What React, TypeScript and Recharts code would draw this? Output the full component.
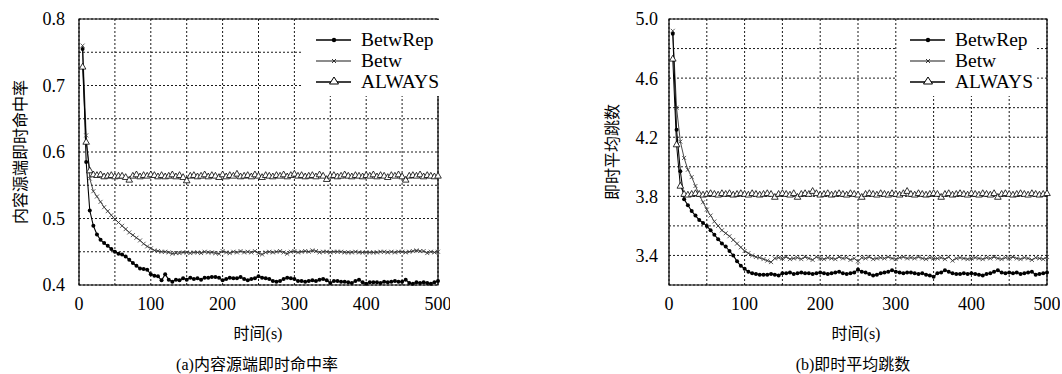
import React from 'react';
import { LineChart, Line, XAxis, YAxis, CartesianGrid, ReferenceArea } from 'recharts';

// sample times (s)
const time = [
  5, 10, 15, 20, 25, 30, 35, 40, 45, 50,
  55, 60, 65, 70, 75, 80, 85, 90, 95, 100,
  105, 110, 115, 120, 125, 130, 135, 140, 145, 150,
  155, 160, 165, 170, 175, 180, 185, 190, 195, 200,
  205, 210, 215, 220, 225, 230, 235, 240, 245, 250,
  255, 260, 265, 270, 275, 280, 285, 290, 295, 300,
  305, 310, 315, 320, 325, 330, 335, 340, 345, 350,
  355, 360, 365, 370, 375, 380, 385, 390, 395, 400,
  405, 410, 415, 420, 425, 430, 435, 440, 445, 450,
  455, 460, 465, 470, 475, 480, 485, 490, 495, 500,
];

// (a) hit ratio at content source
const hitBetwRep = [
  0.755, 0.585, 0.512, 0.489, 0.476, 0.468, 0.463, 0.459, 0.454, 0.450,
  0.447, 0.446, 0.443, 0.438, 0.433, 0.429, 0.425, 0.424, 0.423, 0.416,
  0.414, 0.413, 0.407, 0.416, 0.408, 0.405, 0.408, 0.407, 0.410, 0.408,
  0.411, 0.409, 0.410, 0.408, 0.411, 0.411, 0.412, 0.412, 0.411, 0.407,
  0.409, 0.411, 0.410, 0.410, 0.412, 0.409, 0.407, 0.409, 0.410, 0.413,
  0.411, 0.410, 0.409, 0.406, 0.405, 0.406, 0.409, 0.411, 0.410, 0.409,
  0.406, 0.406, 0.405, 0.406, 0.407, 0.406, 0.408, 0.409, 0.407, 0.403,
  0.406, 0.406, 0.405, 0.405, 0.404, 0.403, 0.406, 0.408, 0.404, 0.402,
  0.404, 0.404, 0.404, 0.403, 0.405, 0.404, 0.405, 0.406, 0.405, 0.405,
  0.408, 0.403, 0.402, 0.404, 0.403, 0.404, 0.403, 0.402, 0.404, 0.406,
];
const hitBetw = [
  0.760, 0.625, 0.560, 0.541, 0.533, 0.525, 0.517, 0.511, 0.505, 0.499,
  0.494, 0.489, 0.484, 0.479, 0.475, 0.471, 0.467, 0.462, 0.458, 0.455,
  0.452, 0.451, 0.450, 0.450, 0.449, 0.447, 0.448, 0.448, 0.449, 0.449,
  0.448, 0.449, 0.449, 0.448, 0.450, 0.449, 0.449, 0.448, 0.447, 0.451,
  0.449, 0.448, 0.450, 0.449, 0.451, 0.449, 0.450, 0.449, 0.451, 0.448,
  0.446, 0.449, 0.450, 0.449, 0.450, 0.451, 0.449, 0.447, 0.450, 0.451,
  0.449, 0.450, 0.451, 0.450, 0.452, 0.451, 0.449, 0.450, 0.450, 0.449,
  0.450, 0.450, 0.450, 0.449, 0.449, 0.449, 0.450, 0.449, 0.449, 0.449,
  0.449, 0.449, 0.449, 0.450, 0.450, 0.449, 0.450, 0.449, 0.450, 0.450,
  0.449, 0.450, 0.451, 0.452, 0.451, 0.451, 0.448, 0.450, 0.449, 0.450,
];
const hitAlways = [
  0.728, 0.615, 0.572, 0.566, 0.565, 0.566, 0.563, 0.564, 0.565, 0.563,
  0.564, 0.564, 0.562, 0.558, 0.564, 0.566, 0.563, 0.565, 0.564, 0.566,
  0.565, 0.563, 0.565, 0.563, 0.564, 0.566, 0.563, 0.565, 0.562, 0.557,
  0.564, 0.565, 0.563, 0.564, 0.566, 0.563, 0.565, 0.564, 0.562, 0.566,
  0.563, 0.565, 0.564, 0.567, 0.563, 0.564, 0.565, 0.563, 0.566, 0.564,
  0.562, 0.565, 0.564, 0.563, 0.565, 0.564, 0.566, 0.563, 0.565, 0.567,
  0.564, 0.565, 0.563, 0.564, 0.565, 0.563, 0.566, 0.564, 0.559, 0.564,
  0.565, 0.563, 0.564, 0.566, 0.564, 0.563, 0.565, 0.564, 0.563, 0.565,
  0.564, 0.566, 0.563, 0.565, 0.564, 0.562, 0.565, 0.564, 0.566, 0.563,
  0.558, 0.564, 0.565, 0.564, 0.566, 0.563, 0.565, 0.564, 0.563, 0.564,
];

// (b) average hop count
const hopBetwRep = [
  4.90, 4.25, 3.97, 3.78, 3.74, 3.70, 3.67, 3.64, 3.62, 3.60,
  3.57, 3.54, 3.51, 3.48, 3.46, 3.43, 3.40, 3.36, 3.33, 3.31,
  3.29, 3.28, 3.275, 3.27, 3.27, 3.27, 3.275, 3.27, 3.265, 3.28,
  3.28, 3.285, 3.275, 3.28, 3.285, 3.28, 3.28, 3.275, 3.28, 3.285,
  3.28, 3.275, 3.28, 3.285, 3.29, 3.28, 3.275, 3.28, 3.285, 3.305,
  3.29, 3.285, 3.275, 3.265, 3.27, 3.28, 3.285, 3.29, 3.30, 3.29,
  3.285, 3.28, 3.285, 3.285, 3.28, 3.275, 3.28, 3.27, 3.265, 3.255,
  3.28, 3.285, 3.30, 3.29, 3.28, 3.275, 3.275, 3.28, 3.275, 3.28,
  3.275, 3.27, 3.265, 3.275, 3.28, 3.29, 3.30, 3.285, 3.28, 3.285,
  3.28, 3.285, 3.275, 3.28, 3.285, 3.29, 3.27, 3.275, 3.28, 3.285,
];
const hopBetw = [
  4.92, 4.40, 4.17, 4.06, 3.98, 3.93, 3.87, 3.81, 3.76, 3.71,
  3.67, 3.63, 3.60, 3.57, 3.55, 3.53, 3.505, 3.48, 3.455, 3.43,
  3.415, 3.40, 3.39, 3.385, 3.375, 3.365, 3.355, 3.38, 3.385, 3.38,
  3.39, 3.375, 3.38, 3.385, 3.375, 3.39, 3.38, 3.37, 3.39, 3.38,
  3.375, 3.385, 3.38, 3.375, 3.39, 3.38, 3.385, 3.37, 3.38, 3.36,
  3.385, 3.38, 3.39, 3.375, 3.38, 3.385, 3.38, 3.39, 3.38, 3.375,
  3.385, 3.39, 3.38, 3.385, 3.38, 3.39, 3.38, 3.375, 3.385, 3.38,
  3.38, 3.385, 3.375, 3.39, 3.365, 3.38, 3.385, 3.38, 3.375, 3.38,
  3.385, 3.38, 3.375, 3.385, 3.38, 3.39, 3.38, 3.375, 3.385, 3.38,
  3.39, 3.38, 3.375, 3.385, 3.38, 3.37, 3.385, 3.38, 3.375, 3.39,
];
const hopAlways = [
  4.73, 4.15, 3.87, 3.815, 3.81, 3.815, 3.82, 3.815, 3.81, 3.815,
  3.82, 3.815, 3.81, 3.82, 3.815, 3.82, 3.81, 3.815, 3.82, 3.815,
  3.81, 3.82, 3.815, 3.81, 3.815, 3.82, 3.815, 3.795, 3.815, 3.82,
  3.815, 3.81, 3.82, 3.795, 3.815, 3.82, 3.815, 3.835, 3.82, 3.81,
  3.815, 3.82, 3.81, 3.815, 3.82, 3.815, 3.81, 3.82, 3.815, 3.81,
  3.795, 3.815, 3.82, 3.815, 3.81, 3.82, 3.815, 3.81, 3.82, 3.815,
  3.81, 3.82, 3.835, 3.815, 3.81, 3.82, 3.815, 3.81, 3.815, 3.82,
  3.815, 3.795, 3.815, 3.82, 3.81, 3.815, 3.82, 3.815, 3.81, 3.82,
  3.815, 3.81, 3.82, 3.815, 3.81, 3.82, 3.795, 3.815, 3.82, 3.815,
  3.81, 3.815, 3.82, 3.815, 3.81, 3.82, 3.815, 3.81, 3.815, 3.82,
];

const seriesNames = ['BetwRep', 'Betw', 'ALWAYS'];

const xTicks = [0, 50, 100, 150, 200, 250, 300, 350, 400, 450, 500];
const xLabels = ['0', '', '100', '', '200', '', '300', '', '400', '', '500'];

const hitTicks = [0.4, 0.45, 0.5, 0.55, 0.6, 0.65, 0.7, 0.75, 0.8];
const hitLabels = ['0.4', '', '0.5', '', '0.6', '', '0.7', '', '0.8'];

const hopTicks = [3.2, 3.4, 3.6, 3.8, 4.0, 4.2, 4.4, 4.6, 4.8, 5.0];
const hopLabels = ['', '3.4', '', '3.8', '', '4.2', '', '4.6', '', '5.0'];

const hitRows = time.map((t, i) => ({ t, rep: hitBetwRep[i], betw: hitBetw[i], always: hitAlways[i] }));
const hopRows = time.map((t, i) => ({ t, rep: hopBetwRep[i], betw: hopBetw[i], always: hopAlways[i] }));

const serif = "'Liberation Serif', 'DejaVu Serif', 'Noto Sans CJK SC', serif";

const RepDot = (props: any) => {
  const { cx, cy, index } = props;
  if (cx == null || cy == null) return <g key={`r-${index}`} />;
  return <circle key={`r-${index}`} cx={cx} cy={cy} r={2} fill="#000" />;
};

const CrossDot = (props: any) => {
  const { cx, cy, index } = props;
  if (cx == null || cy == null) return <g key={`c-${index}`} />;
  return (
    <path
      key={`c-${index}`}
      d={`M${cx - 2},${cy - 2}L${cx + 2},${cy + 2}M${cx - 2},${cy + 2}L${cx + 2},${cy - 2}`}
      stroke="#333"
      strokeWidth={0.8}
      fill="none"
    />
  );
};

const TriDot = (props: any) => {
  const { cx, cy, index } = props;
  if (cx == null || cy == null) return <g key={`a-${index}`} />;
  return (
    <path
      key={`a-${index}`}
      d={`M${cx},${cy - 3.6}L${cx + 3.3},${cy + 2.2}L${cx - 3.3},${cy + 2.2}Z`}
      fill="#fff"
      stroke="#000"
      strokeWidth={0.8}
    />
  );
};

const LegendBox = ({ left }: { left: number }) => (
  <div style={{ position: 'absolute', left, top: 20, width: 138, height: 76, background: '#fff' }}>
    {seriesNames.map((name, i) => (
      <div key={name} style={{ position: 'absolute', left: 0, top: 10 + i * 21, height: 20, width: 150 }}>
        <svg width={50} height={20} style={{ position: 'absolute', left: 0, top: 0 }}>
          <line x1={13} x2={48} y1={10} y2={10} stroke={i === 1 ? '#666' : '#000'} strokeWidth={1.4} />
          {i === 0 && <circle cx={31} cy={10} r={2.2} fill="#000" />}
          {i === 1 && <path d="M29,8L33,12M29,12L33,8" stroke="#222" strokeWidth={0.9} />}
          {i === 2 && <path d="M31,5L35.5,12L26.5,12Z" fill="#fff" stroke="#000" strokeWidth={1} />}
        </svg>
        <span
          style={{
            position: 'absolute',
            left: 58,
            top: 0,
            lineHeight: '20px',
            fontSize: 19.5,
            fontFamily: serif,
            color: '#000',
            whiteSpace: 'nowrap',
          }}
        >
          {name}
        </span>
      </div>
    ))}
  </div>
);

const Panel = ({ left, width, rightMargin, rows, domain, ticks, labels, tickGap }: any) => (
  <div style={{ position: 'absolute', left, top: 0, fontFamily: serif }}>
    <LineChart width={width} height={374} data={rows} margin={{ top: 19, right: rightMargin, bottom: 0, left: 0 }}>
      <CartesianGrid stroke="#000" strokeDasharray="2 2" strokeWidth={0.9} />
      <XAxis
        type="number"
        dataKey="t"
        domain={[0, 500]}
        ticks={xTicks}
        interval={0}
        tickFormatter={(v: number, i: number) => xLabels[i]}
        tickLine={false}
        axisLine={false}
        tickMargin={6}
        height={89}
        tick={{ fill: '#000', fontSize: 18, fontFamily: serif }}
      />
      <YAxis
        type="number"
        domain={domain}
        ticks={ticks}
        interval={0}
        tickFormatter={(v: number, i: number) => labels[i]}
        tickLine={false}
        axisLine={false}
        tickMargin={tickGap}
        width={79}
        tick={{ fill: '#000', fontSize: 18, fontFamily: serif }}
      />
      <ReferenceArea x1={0} x2={500} y1={domain[0]} y2={domain[1]} fill="none" stroke="#000" strokeWidth={1.2} />
      <Line type="linear" dataKey="betw" stroke="#333" strokeWidth={0.9} dot={CrossDot} isAnimationActive={false} />
      <Line type="linear" dataKey="rep" stroke="#000" strokeWidth={1.1} dot={RepDot} isAnimationActive={false} />
      <Line type="linear" dataKey="always" stroke="#000" strokeWidth={1} dot={TriDot} isAnimationActive={false} />
    </LineChart>
  </div>
);

const Txt = ({ x, y, size = 16, rotate = false, children }: any) => (
  <div
    style={{
      position: 'absolute',
      left: x,
      top: y,
      transform: `translate(-50%, -50%)${rotate ? ' rotate(-90deg)' : ''}`,
      fontSize: size,
      fontFamily: serif,
      color: '#000',
      whiteSpace: 'nowrap',
      lineHeight: 1,
    }}
  >
    {children}
  </div>
);

const App = () => (
  <div
    style={{
      position: 'absolute',
      left: 0,
      top: 0,
      width: 1062,
      height: 374,
      background: '#fff',
      overflow: 'hidden',
      fontFamily: serif,
    }}
  >
    <Panel left={0} width={450} rightMargin={12} rows={hitRows} domain={[0.4, 0.8]} ticks={hitTicks} labels={hitLabels} tickGap={8} />
    <Panel left={590} width={470} rightMargin={13} rows={hopRows} domain={[3.2, 5.0]} ticks={hopTicks} labels={hopLabels} tickGap={5} />
    <LegendBox left={303} />
    <LegendBox left={897} />
    <Txt x={21} y={152} rotate>内容源端即时命中率</Txt>
    <Txt x={613} y={152} rotate>即时平均跳数</Txt>
    <Txt x={258} y={334}>时间(s)</Txt>
    <Txt x={856} y={334}>时间(s)</Txt>
    <Txt x={257} y={365}>(a)内容源端即时命中率</Txt>
    <Txt x={853} y={365}>(b)即时平均跳数</Txt>
  </div>
);

export default App;
